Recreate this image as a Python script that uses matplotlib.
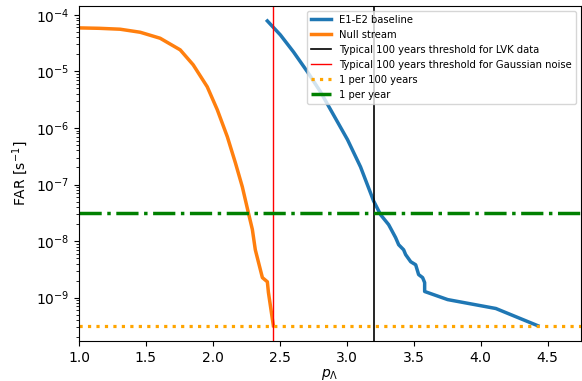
import matplotlib
matplotlib.use("Agg")
import matplotlib.pyplot as plt
import numpy as np

# Null stream curve
null_x = [1.0, 1.15, 1.307, 1.457, 1.606, 1.756, 1.853, 1.958, 2.033, 2.108,
          2.168, 2.220, 2.265, 2.295, 2.317, 2.355, 2.370, 2.407, 2.415, 2.452]
null_far = [5.9e-5, 5.8e-5, 5.59e-5, 4.94e-5, 3.87e-5, 2.41e-5, 1.31e-5, 5.35e-6,
            2.10e-6, 7.0e-7, 2.43e-7, 9.1e-8, 3.18e-8, 1.6e-8, 7.0e-9, 3.1e-9,
            2.25e-9, 1.9e-9, 1.23e-9, 3.17e-10]

# E1-E2 baseline curve
base_x = [2.407, 2.504, 2.602, 2.707, 2.804, 2.901, 3.006, 3.103, 3.201, 3.253,
          3.313, 3.365, 3.388, 3.425, 3.440, 3.478, 3.515, 3.537, 3.567, 3.582,
          3.582, 3.754, 4.114, 4.428]
base_far = [7.83e-5, 4.44e-5, 2.22e-5, 9.8e-6, 4.36e-6, 1.71e-6, 6.2e-7, 2.05e-7,
            5.1e-8, 2.92e-8, 1.95e-8, 1.15e-8, 8.6e-9, 7.0e-9, 5.75e-9, 4.3e-9,
            3.8e-9, 2.55e-9, 2.25e-9, 1.84e-9, 1.28e-9, 9.2e-10, 6.4e-10, 3.17e-10]

lvk_threshold = 3.2
gauss_threshold = 2.45
year = 365.25 * 24 * 3600
per_100_years = 1.0 / (100 * year)
per_year = 1.0 / year

fig = plt.figure(figsize=(5.82, 3.81), dpi=100)
ax = fig.add_axes([79 / 582, 40 / 381, (581 - 79) / 582, (341 - 5.7) / 381])

ax.plot(base_x, base_far, color="C0", lw=2.5, label="E1-E2 baseline")
ax.plot(null_x, null_far, color="C1", lw=2.5, label="Null stream")
ax.axvline(lvk_threshold, color="k", lw=1.2, label="Typical 100 years threshold for LVK data")
ax.axvline(gauss_threshold, color="r", lw=1.0, label="Typical 100 years threshold for Gaussian noise")
ax.axhline(per_100_years, color="orange", lw=2.3, ls=":", label="1 per 100 years")
ax.axhline(per_year, color="green", lw=2.5, ls="-.", label="1 per year")

ax.set_yscale("log")
ax.set_xlim(1.0, 4.75)
ax.set_xticks(np.arange(1.0, 4.51, 0.5))
ax.set_xlabel(r"$p_\Lambda$", fontsize=10, labelpad=2)
ax.set_ylabel(r"FAR [s$^{-1}$]", fontsize=10)
ax.tick_params(labelsize=10)
ax.legend(loc="upper right", fontsize=7.2, handlelength=2.0)

fig.savefig("out.png", dpi=100)
